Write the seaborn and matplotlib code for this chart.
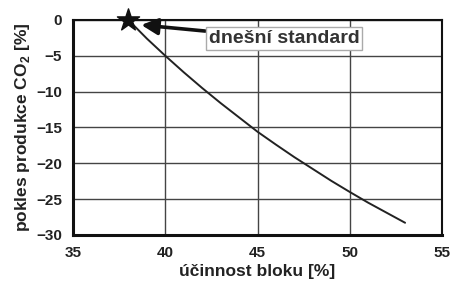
import seaborn as sns
import matplotlib.pyplot as plt
import pandas as pd

# efficiency of the unit [%] and CO2 reduction [%]
ucinnost = [38, 39, 40, 41, 42, 43, 44, 45, 46, 47, 48, 49, 50, 51, 52, 53]
pokles = [0, -2.6, -5.0, -7.3, -9.5, -11.6, -13.6, -15.6, -17.4, -19.15,
          -20.8, -22.45, -24.0, -25.5, -26.9, -28.3]
standard_x = [38]
standard_y = [0]
x_ticks = [35, 40, 45, 50, 55]
y_ticks = [0, -5, -10, -15, -20, -25, -30]

df = pd.DataFrame({"ucinnost": ucinnost, "pokles": pokles})

sns.set_style("white")
plt.rcParams['font.family'] = ['Liberation Sans', 'DejaVu Sans']
plt.rcParams['font.weight'] = 'bold'
plt.rcParams['mathtext.fontset'] = 'custom'
plt.rcParams['mathtext.rm'] = 'Liberation Sans:bold'
plt.rcParams['mathtext.bf'] = 'Liberation Sans:bold'

fig, ax = plt.subplots(figsize=(4.51, 2.89), dpi=100)
fig.subplots_adjust(left=0.162, right=0.98, top=0.931, bottom=0.187)

sns.lineplot(data=df, x="ucinnost", y="pokles", color="#222222", lw=1.4, ax=ax)
ax.scatter(standard_x, standard_y, marker="*", s=280, color="#111111", zorder=5, clip_on=False)

ax.set_xlim(35, 55)
ax.set_ylim(-30, 0)
ax.set_xticks(x_ticks)
ax.set_yticks(y_ticks)
ax.grid(True, color="#444444", lw=1.0)
ax.tick_params(axis="both", labelsize=11, length=3, width=1, colors="#222222", pad=5)
for lab in ax.get_xticklabels() + ax.get_yticklabels():
    lab.set_fontweight("bold")

for side in ["left", "bottom"]:
    ax.spines[side].set_linewidth(2.2)
for side in ["top", "right"]:
    ax.spines[side].set_linewidth(1.5)
for sp in ax.spines.values():
    sp.set_color("#111111")

ax.set_xlabel("účinnost bloku [%]", fontsize=12.5, fontweight="bold", color="#222222", labelpad=3)
ax.set_ylabel(r"pokles produkce CO$_2$ [%]", fontsize=12.5, fontweight="bold", color="#222222", labelpad=3)

ax.annotate("dnešní standard", xy=(38.7, -0.7), xytext=(42.35, -2.6),
            fontsize=14, fontweight="bold", color="#333333", va="center", ha="left",
            bbox=dict(boxstyle="square,pad=0.15", fc="white", ec="#aaaaaa", lw=1),
            arrowprops=dict(arrowstyle="-|>,head_length=0.7,head_width=0.35",
                            color="#111111", lw=2.6, shrinkA=0, shrinkB=0),
            zorder=6)

plt.savefig("out.png", dpi=100)
